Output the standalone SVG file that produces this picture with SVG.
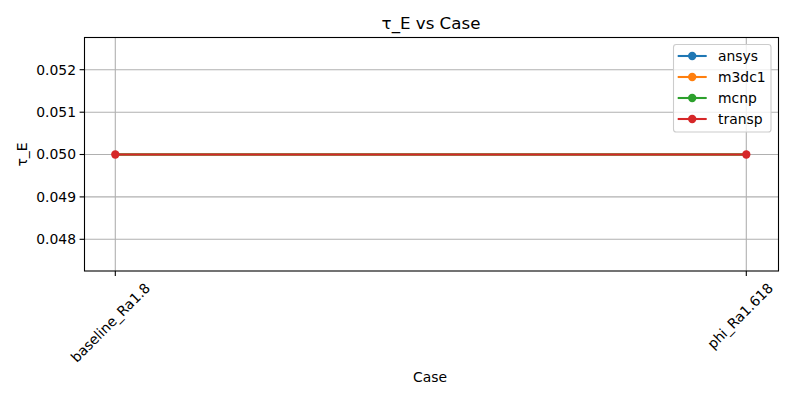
<svg xmlns="http://www.w3.org/2000/svg" width="800" height="400" viewBox="0 0 800 400">
<style>
text{font-family:"DejaVu Sans","Liberation Sans",sans-serif;fill:#000}
.tick{font-size:13.9px}
.grid{stroke:#b0b0b0;stroke-width:1.1}
.tk{stroke:#000;stroke-width:1.1}
.leg{font-size:13.9px}
</style>
<rect width="800" height="400" fill="#fff"/>
<g id="axes">
<rect x="84.5" y="37.5" width="694" height="233.5" fill="#fff"/>
<g id="grid">
<line class="grid" x1="115.3" y1="37.5" x2="115.3" y2="271"/>
<line class="grid" x1="746.3" y1="37.5" x2="746.3" y2="271"/>
<line class="grid" x1="84.5" y1="69.7" x2="778.5" y2="69.7"/>
<line class="grid" x1="84.5" y1="112.2" x2="778.5" y2="112.2"/>
<line class="grid" x1="84.5" y1="154.5" x2="778.5" y2="154.5"/>
<line class="grid" x1="84.5" y1="196.9" x2="778.5" y2="196.9"/>
<line class="grid" x1="84.5" y1="239.3" x2="778.5" y2="239.3"/>
</g>
<g id="ticks">
<line class="tk" x1="79.6" y1="69.7" x2="84.5" y2="69.7"/>
<line class="tk" x1="79.6" y1="112.2" x2="84.5" y2="112.2"/>
<line class="tk" x1="79.6" y1="154.5" x2="84.5" y2="154.5"/>
<line class="tk" x1="79.6" y1="196.9" x2="84.5" y2="196.9"/>
<line class="tk" x1="79.6" y1="239.3" x2="84.5" y2="239.3"/>
<line class="tk" x1="115.3" y1="271" x2="115.3" y2="275.9"/>
<line class="tk" x1="746.3" y1="271" x2="746.3" y2="275.9"/>
<text class="tick" x="76" y="74.6" text-anchor="end">0.052</text>
<text class="tick" x="76" y="117.1" text-anchor="end">0.051</text>
<text class="tick" x="76" y="159.4" text-anchor="end">0.050</text>
<text class="tick" x="76" y="201.8" text-anchor="end">0.049</text>
<text class="tick" x="76" y="244.2" text-anchor="end">0.048</text>
<text class="tick" x="151" y="289" text-anchor="end" transform="rotate(-45 151 289)">baseline_Ra1.8</text>
<text class="tick" x="774" y="289" text-anchor="end" transform="rotate(-45 774 289)">phi_Ra1.618</text>
</g>
</g>
<g id="connectors">
<line x1="115.3" y1="154.5" x2="746.3" y2="154.5" stroke="#1f77b4" stroke-width="2.08"/>
<line x1="115.3" y1="154.5" x2="746.3" y2="154.5" stroke="#ff7f0e" stroke-width="2.08"/>
<line x1="115.3" y1="154.5" x2="746.3" y2="154.5" stroke="#2ca02c" stroke-width="2.08"/>
<line x1="115.3" y1="154.5" x2="746.3" y2="154.5" stroke="#d62728" stroke-width="2.08"/>
</g>
<g id="node-baseline"><circle cx="115.3" cy="154.5" r="4.17" fill="#d62728"/></g>
<g id="node-phi"><circle cx="746.3" cy="154.5" r="4.17" fill="#d62728"/></g>
<rect x="84.5" y="37.5" width="694" height="233.5" fill="none" stroke="#000" stroke-width="1.1"/>
<g id="legend">
<rect x="673.5" y="44.5" width="97.5" height="87.5" rx="2.8" fill="#fff" fill-opacity="0.8" stroke="#cccccc" stroke-width="1.1"/>
<line x1="677.7" y1="56" x2="706.7" y2="56" stroke="#1f77b4" stroke-width="2.08"/><circle cx="692.2" cy="56" r="4.17" fill="#1f77b4"/>
<text class="leg" x="718" y="61">ansys</text>
<line x1="677.7" y1="77" x2="706.7" y2="77" stroke="#ff7f0e" stroke-width="2.08"/><circle cx="692.2" cy="77" r="4.17" fill="#ff7f0e"/>
<text class="leg" x="718" y="82">m3dc1</text>
<line x1="677.7" y1="98" x2="706.7" y2="98" stroke="#2ca02c" stroke-width="2.08"/><circle cx="692.2" cy="98" r="4.17" fill="#2ca02c"/>
<text class="leg" x="718" y="103">mcnp</text>
<line x1="677.7" y1="119" x2="706.7" y2="119" stroke="#d62728" stroke-width="2.08"/><circle cx="692.2" cy="119" r="4.17" fill="#d62728"/>
<text class="leg" x="718" y="124">transp</text>
</g>
<text x="431" y="29.3" font-size="16.67" text-anchor="middle">τ_E vs Case</text>
<text x="430" y="382.3" font-size="13.9" text-anchor="middle">Case</text>
<text x="0" y="0" font-size="13.9" text-anchor="middle" transform="translate(27 154.5) rotate(-90)">τ_E</text>
</svg>
